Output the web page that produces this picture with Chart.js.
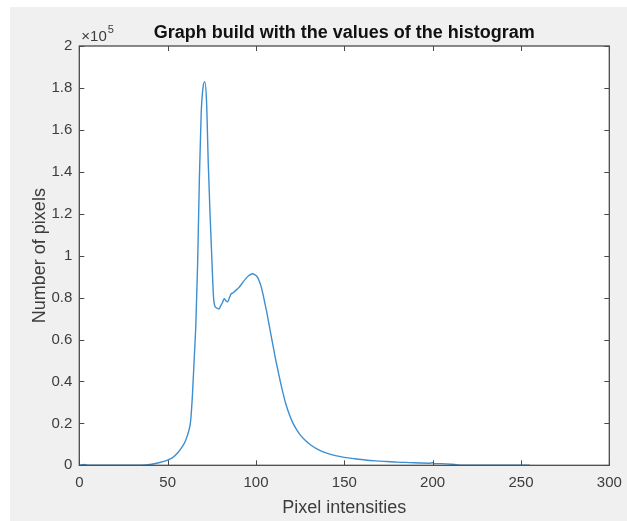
<!DOCTYPE html>
<html>
<head>
<meta charset="utf-8">
<script src="https://cdn.jsdelivr.net/npm/chart.js@4"></script>
<style>
  html, body { margin: 0; padding: 0; background: #fff; }
  #wrap { width: 627px; height: 521px; }
</style>
</head>
<body>
<div id="wrap"><canvas id="histChart"></canvas></div>
<script>
// histogram curve (counts)
const intensities = [0, 3, 5, 20, 35, 40, 45, 50, 53, 56, 58, 60, 62, 63, 64, 65, 66, 67, 68, 69,
  70, 71, 72, 73, 74, 75, 76, 77, 78, 79, 80, 81, 82, 83, 84, 85, 86, 87, 88, 90,
  92, 94, 96, 98, 100, 101, 102, 103, 104, 105, 106, 107, 108, 109, 110, 111, 112, 113, 115, 117,
  119, 121, 123, 125, 128, 131, 135, 140, 145, 150, 156, 162, 168, 174, 180, 187, 193, 198, 200, 201,
  205, 211, 214, 220, 240, 255];
const pixelCounts = [0, 400, 0, 0, 100, 400, 1200, 2500, 3800, 6200, 8500, 11500, 16500, 21000, 33000, 50000, 68000, 97000, 138000, 168000,
  180000, 183000, 174000, 144000, 120000, 99000, 80000, 75500, 75000, 74500, 76000, 77500, 79500, 78500, 78000, 80000, 81800, 82200, 83000, 84500,
  86600, 88800, 90500, 91400, 90500, 89500, 87500, 85000, 81500, 77500, 73500, 69000, 64500, 60000, 55500, 51000, 47000, 43000, 35500, 29000,
  24000, 20000, 17000, 14500, 11800, 9700, 7600, 5800, 4600, 3800, 3100, 2500, 2100, 1800, 1500, 1300, 1100, 1000, 1200, 800,
  800, 500, 200, 100, 50, 0];
const xTicks = [0, 50, 100, 150, 200, 250, 300];
const yTicks = [0, 20000, 40000, 60000, 80000, 100000, 120000, 140000, 160000, 180000, 200000];
const chartTitle = "Graph build with the values of the histogram";

const points = intensities.map((x, i) => ({ x: x, y: pixelCounts[i] }));

const axisColor = "#4a4a4a";
const textColor = "#3c3c3c";
const fontFamily = "'Liberation Sans', Arial, sans-serif";

// figure background, white axes box, inward ticks, title and the x10^5 marker
const matlabLook = {
  id: "matlabLook",
  beforeDraw(chart) {
    const c = chart.ctx;
    const a = chart.chartArea;
    c.save();
    c.fillStyle = "#ffffff";
    c.fillRect(0, 0, chart.width, chart.height);
    c.fillStyle = "#f0f0f0";
    c.fillRect(10, 7, chart.width - 10, chart.height - 7);
    c.fillStyle = "#ffffff";
    c.fillRect(a.left, a.top, a.right - a.left, a.bottom - a.top);
    c.restore();
  },
  afterDraw(chart) {
    const c = chart.ctx;
    const a = chart.chartArea;
    const xs = chart.scales.x;
    const ys = chart.scales.y;
    c.save();
    c.strokeStyle = axisColor;
    c.lineWidth = 1;
    c.beginPath();
    xTicks.forEach(v => {
      const px = Math.round(xs.getPixelForValue(v)) + 0.5;
      c.moveTo(px, a.bottom); c.lineTo(px, a.bottom - 5);
      c.moveTo(px, a.top); c.lineTo(px, a.top + 5);
    });
    yTicks.forEach(v => {
      const py = Math.round(ys.getPixelForValue(v)) + 0.5;
      c.moveTo(a.left, py); c.lineTo(a.left + 5, py);
      c.moveTo(a.right, py); c.lineTo(a.right - 5, py);
    });
    c.stroke();
    c.lineWidth = 1.3;
    c.strokeRect(a.left, a.top, a.right - a.left, a.bottom - a.top);

    // title centred over the axes box, like MATLAB
    c.fillStyle = "#111";
    c.textAlign = "center";
    c.textBaseline = "alphabetic";
    c.font = "bold 18px " + fontFamily;
    c.fillText(chartTitle, (a.left + a.right) / 2, 38);

    c.fillStyle = textColor;
    c.textAlign = "left";
    c.font = "15px " + fontFamily;
    c.fillText("\u00d710", a.left + 2, a.top - 5);
    const w = c.measureText("\u00d710").width;
    c.font = "11px " + fontFamily;
    c.fillText("5", a.left + 3 + w, a.top - 13);
    c.restore();
  }
};

new Chart(document.getElementById("histChart"), {
  type: "line",
  data: {
    datasets: [
      {
        data: points,
        borderColor: "#3d8fd1",
        borderWidth: 1.4,
        pointRadius: 0,
        fill: false,
        cubicInterpolationMode: "monotone"
      }
    ]
  },
  options: {
    responsive: true,
    maintainAspectRatio: false,
    animation: false,
    layout: { padding: { left: 0, right: 17.7, top: 46, bottom: 0 } },
    plugins: {
      legend: { display: false },
      tooltip: { enabled: false },
      title: { display: false }
    },
    scales: {
      x: {
        type: "linear",
        min: 0,
        max: 300,
        afterFit: s => { s.height = 55.7; s.paddingLeft = 0; s.paddingRight = 0; },
        afterBuildTicks: s => { s.ticks = xTicks.map(v => ({ value: v })); },
        grid: { display: false, drawTicks: false },
        border: { display: false },
        ticks: {
          color: textColor,
          padding: 9,
          maxRotation: 0,
          font: { family: fontFamily, size: 15 }
        },
        title: {
          display: true,
          text: "Pixel intensities",
          color: textColor,
          font: { family: fontFamily, size: 18, lineHeight: 1.2 },
          padding: { top: 0, bottom: 2.2 }
        }
      },
      y: {
        min: 0,
        max: 200000,
        afterFit: s => { s.width = 79.3; s.paddingTop = 0; s.paddingBottom = 0; },
        afterBuildTicks: s => { s.ticks = yTicks.map(v => ({ value: v })); },
        grid: { display: false, drawTicks: false },
        border: { display: false },
        ticks: {
          color: textColor,
          padding: 7,
          font: { family: fontFamily, size: 15 },
          callback: v => String(Math.round(v / 10000) / 10)
        },
        title: {
          display: true,
          text: "Number of pixels",
          color: textColor,
          font: { family: fontFamily, size: 18, lineHeight: 1.2 },
          padding: { top: 29.2, bottom: 0 }
        }
      }
    }
  },
  plugins: [matlabLook]
});
</script>
</body>
</html>
